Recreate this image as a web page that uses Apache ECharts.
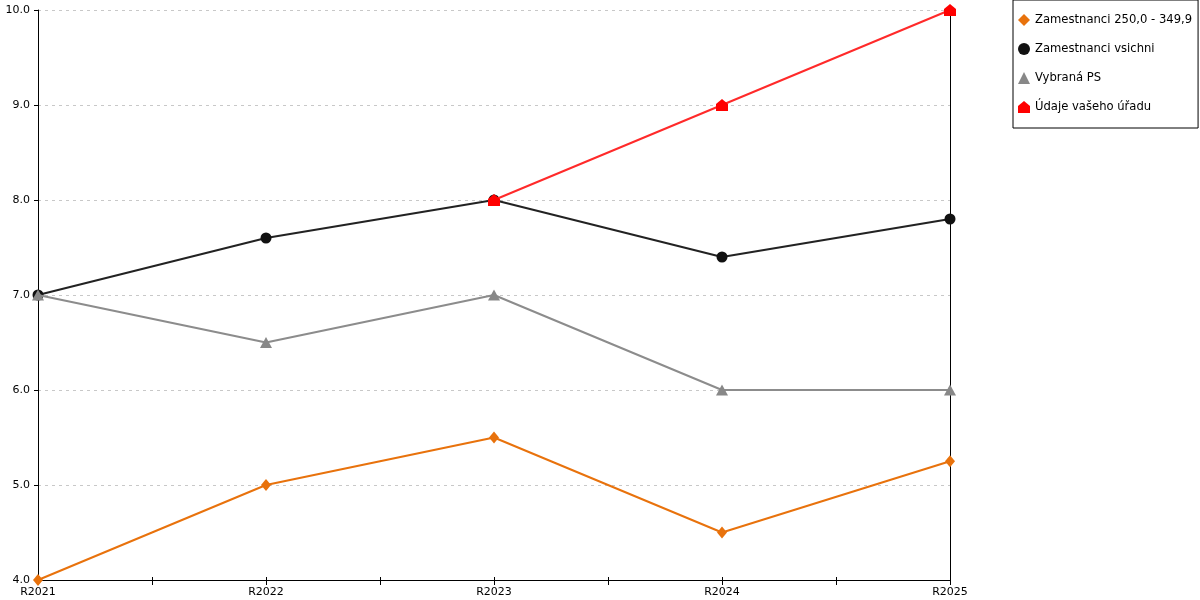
<!DOCTYPE html>
<html lang="cs">
<head>
    <meta charset="UTF-8">
    <title>Graf</title>
    <style>
        html, body { margin: 0; padding: 0; background: #fff; }
        #main { width: 1200px; height: 600px; }
    </style>
</head>
<body>
    <div id="main"></div>
    <script src="https://cdn.jsdelivr.net/npm/echarts@6/dist/echarts.min.js"></script>
    <script>
        var kategorie = ['R2021', 'R2022', 'R2023', 'R2024', 'R2025'];
        var nazvy = ['Zamestnanci 250,0 - 349,9', 'Zamestnanci vsichni', 'Vybraná PS', 'Údaje vašeho úřadu'];
        var zam250 = [4.0, 5.0, 5.5, 4.5, 5.25];
        var zamVsichni = [7.0, 7.6, 8.0, 7.4, 7.8];
        var vybranaPS = [7.0, 6.5, 7.0, 6.0, 6.0];
        var vasUrad = [null, null, 8.0, 9.0, 10.0];

        var barvy = ['#e8720c', '#111111', '#888888', '#ff0000'];
        var carBarvy = ['#e8720c', '#222222', '#8c8c8c', '#ff2a2a'];
        var symboly = ['diamond', 'circle', 'triangle', 'path://M0,5 L6,0 L12,5 L12,12 L0,12 Z'];
        var velikosti = [[10, 12], 11, [12, 11], 12];

        function body(hodnoty) {
            var out = [];
            for (var i = 0; i < hodnoty.length; i++) {
                out.push([i, hodnoty[i]]);
            }
            return out;
        }

        var font = 'DejaVu Sans';
        var vsechnyRady = [zam250, zamVsichni, vybranaPS, vasUrad];
        var series = [];
        for (var s = 0; s < vsechnyRady.length; s++) {
            series.push({
                name: nazvy[s],
                type: 'line',
                data: body(vsechnyRady[s]),
                symbol: symboly[s],
                symbolSize: velikosti[s],
                showAllSymbol: true,
                connectNulls: false,
                itemStyle: { color: barvy[s] },
                lineStyle: { color: carBarvy[s], width: 2 },
                emphasis: { disabled: true },
                z: 3 + s
            });
        }

        var myChart = echarts.init(document.getElementById('main'));
        var option = {
            animation: false,
            textStyle: { fontFamily: font },
            legend: {
                orient: 'vertical',
                left: 1013,
                top: 0,
                padding: [14, 6, 15, 5],
                itemGap: 17,
                itemWidth: 12,
                itemHeight: 12,
                borderColor: '#000',
                borderWidth: 1,
                textStyle: { fontFamily: font, fontSize: 11.6, color: '#000' },
                data: nazvy.map(function (n, i) {
                    return { name: n, icon: symboly[i], itemStyle: { color: barvy[i] } };
                })
            },
            grid: { left: 38, right: 250, top: 10, bottom: 20 },
            xAxis: [{
                type: 'value',
                min: 0,
                max: 4,
                interval: 0.5,
                axisLine: { onZero: false, lineStyle: { color: '#000', width: 1 } },
                axisTick: { show: true, length: 5, lineStyle: { color: '#000' } },
                splitLine: { show: false },
                axisLabel: {
                    color: '#000',
                    fontSize: 11,
                    margin: 7,
                    showMinLabel: true,
                    showMaxLabel: true,
                    formatter: function (v) {
                        return Number.isInteger(v) ? kategorie[v] : '';
                    }
                }
            }, {
                type: 'value',
                position: 'bottom',
                min: 0,
                max: 4,
                interval: 0.5,
                axisLine: { show: false, onZero: false },
                axisTick: { show: true, inside: true, length: 3, lineStyle: { color: '#000' } },
                axisLabel: { show: false },
                splitLine: { show: false }
            }],
            yAxis: [{
                type: 'value',
                min: 4,
                max: 10,
                interval: 1,
                axisLine: { show: true, onZero: false, lineStyle: { color: '#000', width: 1 } },
                axisTick: { show: true, length: 4, lineStyle: { color: '#000' } },
                axisLabel: {
                    color: '#000',
                    fontSize: 11,
                    margin: 8,
                    formatter: function (v) { return v.toFixed(1); }
                },
                splitLine: { show: true, lineStyle: { color: '#c8c8c8', type: [3, 4] } }
            }, {
                type: 'value',
                position: 'right',
                min: 4,
                max: 10,
                interval: 1,
                axisLine: { show: true, onZero: false, lineStyle: { color: '#000', width: 1 } },
                axisTick: { show: false },
                axisLabel: { show: false },
                splitLine: { show: false }
            }],
            series: series
        };
        myChart.setOption(option);
    </script>
</body>
</html>
